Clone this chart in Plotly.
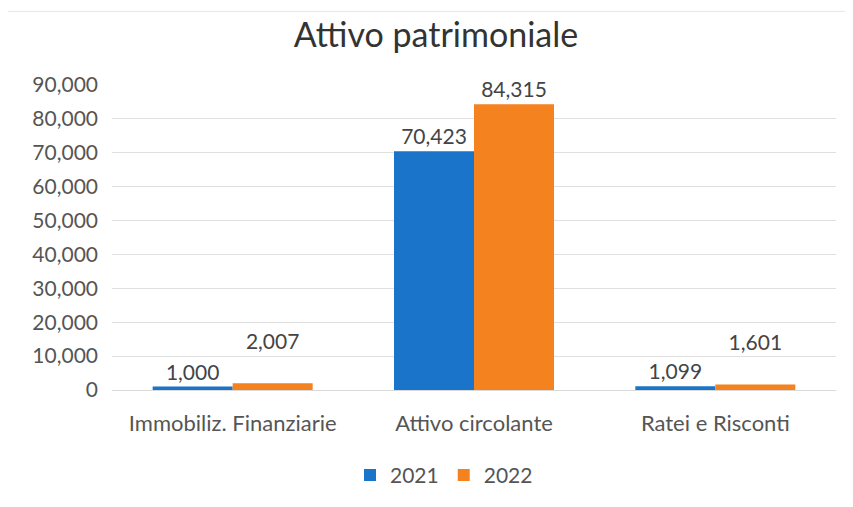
import plotly.graph_objects as go

categories = ["Immobiliz. Finanziarie", "Attivo circolante", "Ratei e Risconti"]
values_2021 = [1000, 70423, 1099]
values_2022 = [2007, 84315, 1601]
series_names = ["2021", "2022"]
tick_vals = [0, 10000, 20000, 30000, 40000, 50000, 60000, 70000, 80000, 90000]

# labels the reference chart moved up one line to avoid overlap (style only)
lift_2021 = [False, False, False]
lift_2022 = [True, False, True]

# page body adds an 8px offset; compensate so screen coordinates match
OFF = 8
W, H = 845, 499
PL, PR, PT, PB = 112, 836, 85, 391.5   # plot area in screen pixels
ML, MR = PL - OFF, OFF + W - PR
MT, MB = PT - OFF, OFF + H - PB
pw = PR - PL
ph = PB - PT

def px_x(x):
    return (x - PL) / pw

def px_y(y):
    return (PB - y) / ph

font_family = "Lato, 'Open Sans', sans-serif"
txt_color = "#555555"

def labels(vals, lift):
    return [f"{v:,}<br> " if up else f"{v:,}" for v, up in zip(vals, lift)]

fig = go.Figure()
for name, vals, lift, color in [(series_names[0], values_2021, lift_2021, "#1A74C9"),
                                (series_names[1], values_2022, lift_2022, "#F4821F")]:
    fig.add_trace(go.Bar(
        name=name, x=categories, y=vals,
        marker=dict(color=color, line=dict(width=0)),
        text=labels(vals, lift),
        textposition="outside",
        textfont=dict(size=21, color="#444444", family=font_family),
        cliponaxis=False,
    ))

fig.update_layout(
    width=W, height=H,
    margin=dict(l=ML, r=MR, t=MT, b=MB),
    paper_bgcolor="white", plot_bgcolor="white",
    barmode="group", bargap=0.337, bargroupgap=0,
    font=dict(family=font_family, color=txt_color, size=20),
    title=dict(text="Attivo patrimoniale", x=(436 - OFF) / W, xref="container", xanchor="center",
               y=1 - (35 - OFF) / H, yref="container", yanchor="middle",
               font=dict(size=34, color="#333333", family=font_family)),
    xaxis=dict(showgrid=False, showline=False, ticks="", ticklabelstandoff=18,
               tickfont=dict(size=22, color=txt_color)),
    yaxis=dict(range=[0, 90000], tickvals=tick_vals, tickformat=",",
               showgrid=True, gridcolor="#e0e0e0", gridwidth=1,
               zeroline=True, zerolinecolor="#d9d9d9", zerolinewidth=1,
               showline=False, ticks="", ticklabelstandoff=13,
               tickfont=dict(size=21, color=txt_color)),
    legend=dict(orientation="h", x=px_x(444), xanchor="center",
                y=px_y(476), yanchor="middle",
                font=dict(size=21, color=txt_color),
                traceorder="normal"),
    showlegend=True,
    shapes=[
        dict(type="line", xref="paper", yref="paper",
             x0=px_x(7), x1=px_x(853), y0=px_y(11), y1=px_y(11),
             line=dict(color="#e6e6e6", width=1)),
        dict(type="line", xref="paper", yref="paper",
             x0=px_x(7), x1=px_x(7), y0=px_y(11), y1=px_y(507),
             line=dict(color="#ececec", width=1)),
    ],
)

fig.write_html("out.html")
